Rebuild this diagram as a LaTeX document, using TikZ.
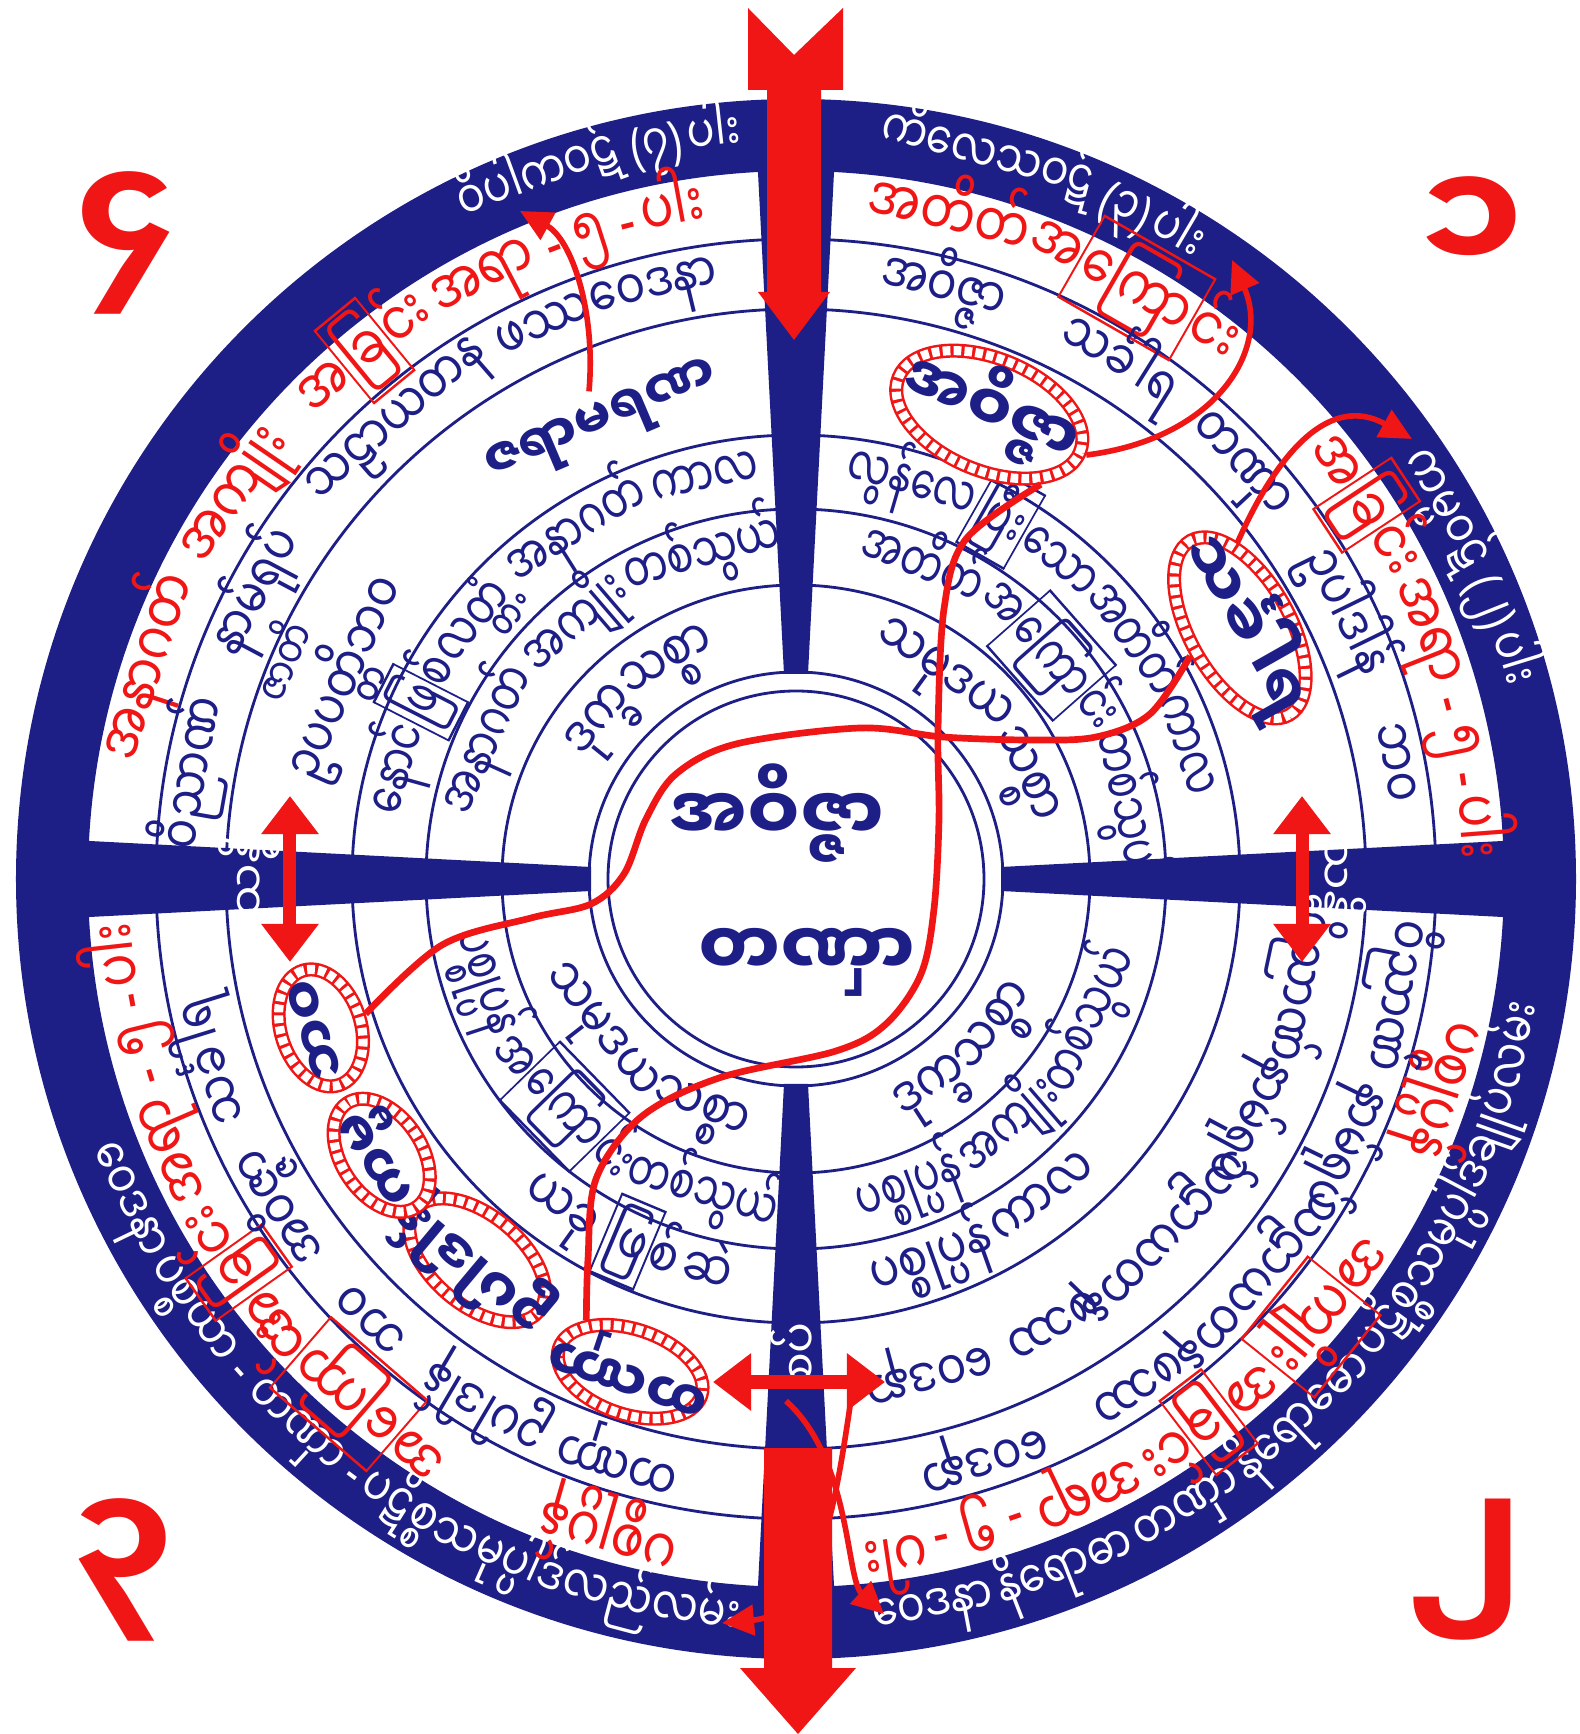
\documentclass[tikz,border=0pt]{standalone}
\usepackage{fontspec}
\usepackage{tikz}
\usetikzlibrary{shapes.geometric, arrows.meta, calc}
\newfontfamily\mm[Script=Myanmar]{Noto Sans Myanmar UI}
\newfontfamily\latf{Noto Sans}
\definecolor{wheelblue}{RGB}{30, 30, 135}
\definecolor{wheelred}{RGB}{240, 22, 22}
\newcommand{\ringf}{\mm\fontsize{16}{18}\selectfont}
\newcommand{\redf}{\mm\fontsize{18}{20}\selectfont}
\newcommand{\bandf}{\mm\fontsize{15}{17}\selectfont}
\newcommand{\smallf}{\mm\fontsize{13}{15}\selectfont}
\newcommand{\labf}{\mm\fontsize{13}{15}\selectfont}
\newcommand{\jaraf}{\mm\bfseries\fontsize{15}{17}\selectfont}
\newcommand{\ovalf}{\mm\bfseries\fontsize{18}{20}\selectfont}
\newcommand{\ovalsf}{\mm\bfseries\fontsize{16}{18}\selectfont}
\newcommand{\centf}{\mm\bfseries\fontsize{21}{23}\selectfont}
\newcommand{\numf}{\mm\bfseries\fontsize{44}{44}\selectfont}
\newcommand{\bx}[1]{{\fboxsep=1pt\fboxrule=0.7pt\fbox{#1}}}
\newcommand{\ovtext}[1]{\makebox[0pt]{\raisebox{-0.26em}[0pt][0pt]{#1}}}
\newcommand{\lp}{{\latf(}}
\newcommand{\rp}{{\latf)}}
\newcommand{\dsh}{{\latf-}}
\tikzstyle{ringline} = [draw=wheelblue, line width=0.8pt]
\tikzstyle{bluetext} = [text=wheelblue]
\tikzstyle{redtext} = [text=wheelred]
\tikzstyle{bandtext} = [text=white]
\tikzstyle{rope} = [ellipse, fill=white, draw=wheelred, line width=4pt, postaction={draw=white, line width=2.6pt, dash pattern=on 2.2pt off 0.9pt}, text=wheelblue, inner sep=0pt]
\tikzstyle{ropeline} = [draw=wheelred, line width=1.9pt]
\tikzstyle{thinarrow} = [draw=wheelred, line width=1.6pt, -{Triangle[length=0.32cm, width=0.3cm]}]
\tikzstyle{dblarrow} = [draw=wheelred, line width=0.13cm, {Triangle[length=0.38cm, width=0.55cm]}-{Triangle[length=0.38cm, width=0.55cm]}]
% words set one after another along an arc
\newcount\wcount
\newdimen\mmw
\newcommand{\arcgap}{0.3}
\newcommand{\txs}{0.78}
\newcommand{\arcrun}[7]{%
  \xdef\arcang{#2}%
  \foreach \ch in {#7}{%
    \pgfinterruptpicture\global\setbox1=\hbox{#4\ch}\endpgfinterruptpicture
    \global\mmw=\wd1
    \pgfmathsetmacro\cda{\the\mmw*\txs/(#1*0.284527)*57.29578}%
    \pgfmathsetmacro\cang{\arcang+(#3)*\cda/2}%
    \pgfmathsetmacro\crot{\cang+90*(#3)}%
    \pgfmathsetmacro\crad{#1+(#3)*#6}%
    \global\advance\wcount by 1
    \node[#5, anchor=base, inner sep=0pt, rotate=\crot, xscale=\txs] (w\the\wcount) at (\cang:\crad) {#4\ch};
    \pgfmathsetmacro\cnext{\arcang+(#3)*(\cda+\arcgap/(#1*0.284527)*57.29578)}%
    \xdef\arcang{\cnext}%
  }%
}
% one word centred at an angle
\newcommand{\arcat}[7]{%
  \pgfmathsetmacro\crot{#2+90*(#3)}%
  \pgfmathsetmacro\crad{#1+(#3)*#6}%
  \global\advance\wcount by 1
  \node[#5, anchor=base, inner sep=0pt, rotate=\crot, xscale=\txs] (w\the\wcount) at (#2:\crad) {#4#7};%
}
\begin{document}
\begin{tikzpicture}[x=0.01cm, y=0.01cm]
    \useasboundingbox (-796,-855) rectangle (783,879);
    \fill[white] (-796,-855) rectangle (783,879);

    % Outer band
    \fill[wheelblue, even odd rule] (0,0) circle (780) (0,0) circle (708);

    % Rings
    \foreach \r in {294, 370, 444, 570, 640}
        \draw[ringline] (0,0) circle (\r);

    % Spokes
    \foreach \a in {0, 90, 180, 270}
        \fill[wheelblue, rotate=\a] (205,-12) -- (745,-40) -- (745,40) -- (205,12) -- cycle;

    % Centre
    \draw[ringline] (0,0) circle (207);
    \draw[ringline] (0,0) circle (188);
    \node[bluetext, font=\centf] (ctrTop) at (-19,66) {အဝိဇ္ဇာ};
    \node[bluetext, font=\centf] (ctrBot) at (11,-83) {တဏှာ};

    % Quarter 4 (top left)
    \arcrun{744}{117}{-1}{\bandf}{bandtext}{13.7}{ဝိပါကဝဋ်~,\lp၇\rp~,ပါး}
    \arcrun{674}{170}{-1}{\redf}{redtext}{16.5}{အနာဂတ်}
    \arcrun{674}{152}{-1}{\redf}{redtext}{16.5}{အကျိုး}
    \arcrun{674}{136}{-1}{\redf}{redtext}{16.5}{အ\bx{ခြ}င်း,အရာ~,\dsh~,၅~,\dsh~,ပါး}
    \arcat{605}{170}{-1}{\ringf}{bluetext}{14.6}{ဝိညာဏ်}
    \arcat{605}{152}{-1}{\ringf}{bluetext}{14.6}{နာမ်ရုပ်}
    \arcat{605}{131}{-1}{\ringf}{bluetext}{14.6}{သဠာယတန}
    \arcat{605}{114.5}{-1}{\ringf}{bluetext}{14.6}{ဖဿ}
    \arcat{605}{103.5}{-1}{\ringf}{bluetext}{14.6}{ဝေဒနာ}
    \arcat{548}{157}{-1}{\smallf}{bluetext}{12}{ဇာတိ}
    \arcat{487}{156}{-1}{\ringf}{bluetext}{14.6}{ဥပပတ္တိဘဝ}
    \node[bluetext, font=\jaraf, rotate=23] (jara) at (113:493) {ဇရာမရဏ};
    \renewcommand{\txs}{0.71}
    \arcrun{407}{171}{-1}{\ringf}{bluetext}{14.6}{နောင်,\bx{ဖြ}စ်,လတ္တံ့,အနာဂတ်~,ကာလ}
    \arcrun{332}{170}{-1}{\ringf}{bluetext}{14.6}{အနာဂတ်~,အကျိုး,တစ်သွယ်}
    \renewcommand{\txs}{0.78}
    \arcrun{250}{150}{-1}{\ringf}{bluetext}{14.6}{ဒုက္ခ,သစ္စာ}

    % Quarter 1 (top right)
    \arcrun{744}{84}{-1}{\bandf}{bandtext}{13.7}{ကိလေသဝဋ်~,\lp၃\rp~,ပါး}
    \arcrun{744}{35}{-1}{\bandf}{bandtext}{13.7}{ကမ္မဝဋ်~,\lp၂\rp~,ပါး}
    \arcrun{674}{84}{-1}{\redf}{redtext}{16.5}{အတိတ်,အ\bx{ကြော}င်း}
    \arcrun{674}{40}{-1}{\redf}{redtext}{16.5}{အ\bx{ခြ}င်း,အရာ~,\dsh~,၅~,\dsh~,ပါး}
    \arcat{605}{76}{-1}{\ringf}{bluetext}{14.6}{အဝိဇ္ဇာ}
    \arcat{605}{58}{-1}{\ringf}{bluetext}{14.6}{သင်္ခါရ}
    \arcat{605}{43}{-1}{\ringf}{bluetext}{14.6}{တဏှာ}
    \arcat{605}{26}{-1}{\ringf}{bluetext}{14.6}{ဥပါဒါန်}
    \arcat{605}{11}{-1}{\ringf}{bluetext}{14.6}{ဘဝ}
    \renewcommand{\txs}{0.68}
    \arcrun{407}{83}{-1}{\ringf}{bluetext}{14.6}{လွန်လေ,\bx{ပြီး},သော,အတိတ်,ကာလ}
    \arcrun{332}{79}{-1}{\ringf}{bluetext}{14.6}{အတိတ်,အ\bx{ကြော}င်း,တစ်သွယ်}
    \renewcommand{\txs}{0.78}
    \arcrun{250}{72}{-1}{\ringf}{bluetext}{14.6}{သမုဒယ,သစ္စာ}

    % Quarter 2 (bottom right)
    \arcrun{744}{-84}{1}{\bandf}{bandtext}{13.7}{ဝေဒနာ,နိရောဓာ~,တဏှာ,နိရောဓော~,ပဋိစ္စ,သမုပ္ပါဒ်,ချုပ်,လမ်း}
    \arcrun{674}{-12}{-1}{\redf}{redtext}{16.5}{ပစ္စုပ္ပန်}
    \arcrun{674}{-32}{-1}{\redf}{redtext}{16.5}{အ\bx{ကျိုး}}
    \arcrun{674}{-46}{-1}{\redf}{redtext}{16.5}{အ\bx{ခြ}င်း,အရာ~,\dsh~,၅~,\dsh~,ပါး}
    \arcat{605}{-11}{-1}{\ringf}{bluetext}{14.6}{ဝိညာဏ်}
    \arcat{605}{-26}{-1}{\ringf}{bluetext}{14.6}{နာမ်ရုပ်}
    \arcat{605}{-41}{-1}{\ringf}{bluetext}{14.6}{သဠာယတန}
    \arcat{605}{-56}{-1}{\ringf}{bluetext}{14.6}{ဖဿ}
    \arcat{605}{-72}{-1}{\ringf}{bluetext}{14.6}{ဝေဒနာ}
    \arcat{507}{-12}{-1}{\ringf}{bluetext}{14.6}{ဝိညာဏ်}
    \arcat{507}{-28}{-1}{\ringf}{bluetext}{14.6}{နာမ်ရုပ်}
    \arcat{507}{-44}{-1}{\ringf}{bluetext}{14.6}{သဠာယတန}
    \arcat{507}{-60}{-1}{\ringf}{bluetext}{14.6}{ဖဿ}
    \arcat{507}{-75}{-1}{\ringf}{bluetext}{14.6}{ဝေဒနာ}
    \arcrun{407}{-80}{1}{\ringf}{bluetext}{14.6}{ပစ္စုပ္ပန်~,ကာလ}
    \renewcommand{\txs}{0.68}
    \arcrun{332}{-80}{1}{\ringf}{bluetext}{14.6}{ပစ္စုပ္ပန်~,အကျိုး,တစ်သွယ်}
    \renewcommand{\txs}{0.78}
    \arcrun{250}{-66}{1}{\ringf}{bluetext}{14.6}{ဒုက္ခ,သစ္စာ}

    % Quarter 3 (bottom left)
    \arcrun{744}{-159}{1}{\bandf}{bandtext}{13.7}{ဝေဒနာ,ပစ္စယာ~,\dsh~,တဏှာ~,\dsh~,ပဋိစ္စ,သမုပ္ပါဒ်,လည်,လမ်း}
    \arcrun{674}{-100}{-1}{\redf}{redtext}{16.5}{ပစ္စုပ္ပန်}
    \arcrun{674}{-121}{-1}{\redf}{redtext}{16.5}{အ\bx{ကြော}င်း}
    \arcrun{674}{-138}{-1}{\redf}{redtext}{16.5}{အ\bx{ခြ}င်း,အရာ~,\dsh~,၅~,\dsh~,ပါး}
    \arcat{605}{-107}{-1}{\ringf}{bluetext}{14.6}{တဏှာ}
    \arcat{605}{-120.5}{-1}{\ringf}{bluetext}{14.6}{ဥပါဒါန်}
    \arcat{605}{-134}{-1}{\ringf}{bluetext}{14.6}{ဘဝ}
    \arcat{605}{-147.6}{-1}{\ringf}{bluetext}{14.6}{အဝိဇ္ဇာ}
    \arcat{605}{-162.7}{-1}{\ringf}{bluetext}{14.6}{သင်္ခါရ}
    \arcrun{407}{-132}{1}{\ringf}{bluetext}{14.6}{ယခု~,\bx{ဖြ}စ်~,ဆဲ}
    \renewcommand{\txs}{0.68}
    \arcrun{332}{-172}{1}{\ringf}{bluetext}{14.6}{ပစ္စုပ္ပန်~,အ\bx{ကြော}င်း,တစ်သွယ်}
    \renewcommand{\txs}{0.78}
    \arcrun{250}{-160}{1}{\ringf}{bluetext}{14.6}{သမုဒယ,သစ္စာ}

    % Spoke labels
    \node[text=white, font=\labf, rotate=90] (sandhiL) at (-547,4) {သန္ဓိ};
    \node[text=white, font=\labf, rotate=-90] (sandhiR) at (540,0) {သန္ဓိ};
    \node[text=white, font=\labf, rotate=90] (sapB) at (-2,-474) {စပ်};

    % Rope ovals
    \node[rope, font=\ovalf, minimum width=1.96cm, minimum height=1.12cm, rotate=-22.6] (ovAvijja) at (67.4:503) {\ovtext{အဝိဇ္ဇာ}};
    \node[rope, font=\ovalf, minimum width=2.0cm, minimum height=1.0cm, rotate=-60.5] (ovSankhara) at (29.5:510) {\ovtext{သင်္ခါရ}};
    \node[rope, font=\ovalsf, minimum width=1.5cm, minimum height=0.85cm, rotate=-198.6] (ovTanha) at (-108.6:520) {\ovtext{တဏှာ}};
    \node[rope, font=\ovalsf, minimum width=1.6cm, minimum height=0.9cm, rotate=-219.9] (ovUpadana) at (-129.9:497) {\ovtext{ဥပါဒါန်}};
    \node[rope, font=\ovalsf, minimum width=1.25cm, minimum height=0.8cm, rotate=-236.3] (ovKamma) at (-146.3:498) {\ovtext{ကမ္မ}};
    \node[rope, font=\ovalsf, minimum width=1.2cm, minimum height=0.8cm, rotate=-252.6] (ovBhava) at (-162.6:498) {\ovtext{ဘဝ}};

    % Rope lines through the centre
    \draw[ropeline] plot[smooth, tension=0.55] coordinates {(ovBhava.south) (-354,-66) (-265,-39) (-205,-25) (-172,5) (-150,60) (-120,105) (-60,135) (64,151) (147,142) (234,139) (300,142) (354,165) (ovSankhara.south)};
    \draw[ropeline] plot[smooth, tension=0.55] coordinates {(ovAvijja.south east) (170,340) (148,270) (142,149) (143,60) (138,-30) (125,-95) (90,-145) (40,-172) (-77,-199) (-155,-238) (-200,-300) (-208,-380) (ovTanha.south east)};

    % Thin arrows to the band
    \coordinate (vipakaTip) at (-276,668);
    \coordinate (kilesaTip) at (436,619);
    \coordinate (kammaTip) at (616,440);
    \draw[thinarrow] (jara.north) .. controls (-200,570) and (-225,640) .. (vipakaTip);
    \draw[thinarrow] (ovAvijja.east) .. controls (420,440) and (475,530) .. (kilesaTip);
    \draw[thinarrow] (ovSankhara.north west) .. controls (483,430) and (535,485) .. (kammaTip);

    % Big arrows on the vertical axis
    \fill[wheelred] (-48,871) -- (-2,824) -- (47,871) -- (47,789) -- (25,789) -- (25,587) -- (34,587) -- (-2,539) -- (-38,587) -- (-29,587) -- (-29,789) -- (-48,789) -- cycle;
    \fill[wheelred] (-32,-569) -- (36,-569) -- (36,-789) -- (60,-789) -- (2,-855) -- (-56,-789) -- (-32,-789) -- cycle;

    % Thin arrows at the bottom
    \coordinate (crossA) at (-10,-522);
    \coordinate (crossB) at (56,-514);
    \coordinate (vedTip) at (88,-735);
    \coordinate (lamTip) at (-74,-744);
    \draw[thinarrow] (crossA) .. controls (55,-580) and (50,-700) .. (vedTip);
    \draw[thinarrow] (crossB) .. controls (40,-620) and (25,-735) .. (lamTip);

    % Double arrows across the joints
    \coordinate (jointLa) at (-506,83);
    \coordinate (jointLb) at (-506,-83);
    \coordinate (jointRa) at (506,83);
    \coordinate (jointRb) at (506,-83);
    \coordinate (jointBa) at (-83,-503);
    \coordinate (jointBb) at (89,-503);
    \draw[dblarrow] (jointLa) -- (jointLb);
    \draw[dblarrow] (jointRa) -- (jointRb);
    \draw[dblarrow] (jointBa) -- (jointBb);

    % Numbers
    \node[text=wheelred, font=\numf] (numOne) at (675,652) {၁};
    \node[text=wheelred, font=\numf] (numTwo) at (669,-691) {၂};
    \node[text=wheelred, font=\numf] (numThree) at (-674,-691) {၃};
    \node[text=wheelred, font=\numf] (numFour) at (-669,636) {၄};
\end{tikzpicture}
\end{document}
